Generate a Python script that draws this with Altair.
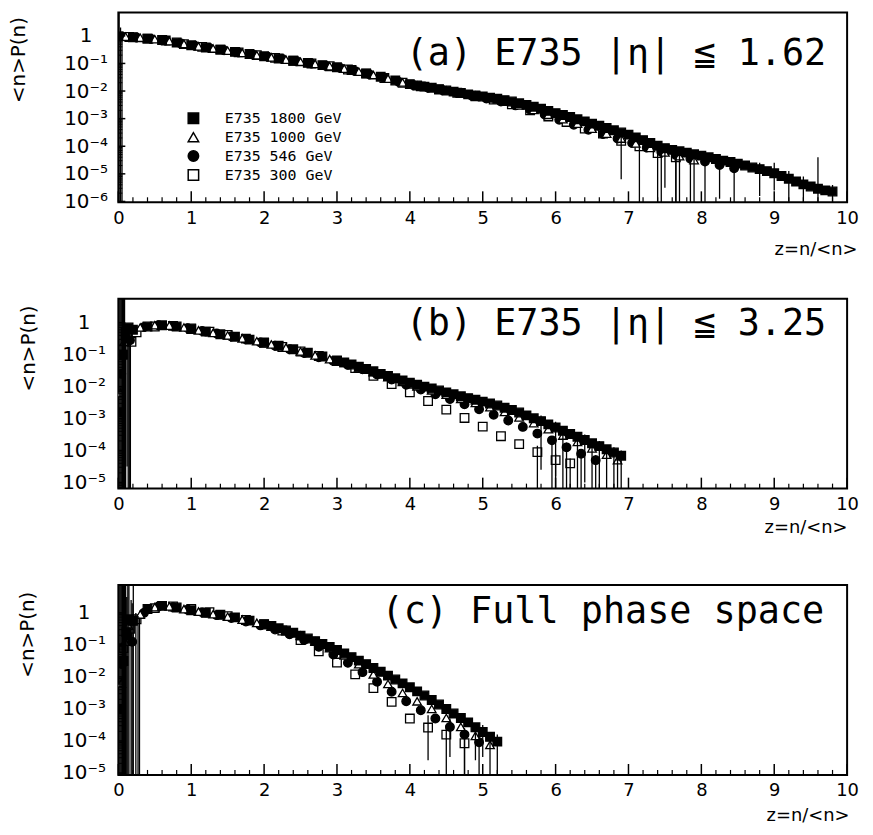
import altair as alt
import pandas as pd

FONT = "DejaVu Sans"
MONO = "DejaVu Sans Mono"

SERIES = ["E735 1800 GeV", "E735 1000 GeV", "E735 546 GeV", "E735 300 GeV"]
SHAPES = ["square", "triangle-up", "circle", "square"]
FILLS = ["black", "white", "black", "white"]
STROKES = ["black", "black", "black", "black"]

# ---------------- values: z and log10(<n>P(n)) ----------------
# panel (a) |eta| <= 1.62
A_1800_Z = [0.0, 0.2, 0.4, 0.6, 0.8, 1.0, 1.2, 1.4, 1.6, 1.8, 2.0, 2.2, 2.4, 2.6, 2.8, 3.0, 3.2, 3.4, 3.6, 3.8,
            4.0, 4.1, 4.2, 4.3, 4.4, 4.5, 4.6, 4.7, 4.8, 4.9, 5.0, 5.1, 5.2, 5.3, 5.4, 5.5, 5.6, 5.7, 5.8, 5.9,
            6.0, 6.1, 6.2, 6.3, 6.4, 6.5, 6.6, 6.7, 6.8, 6.9, 7.0, 7.1, 7.2, 7.3, 7.4, 7.5, 7.6, 7.7, 7.8, 7.9,
            8.0, 8.1, 8.2, 8.3, 8.4, 8.5, 8.6, 8.7, 8.8, 8.9, 9.0, 9.1, 9.2, 9.3, 9.4, 9.5, 9.6, 9.7, 9.8]
A_1800_L = [-0.02, -0.05, -0.10, -0.15, -0.24, -0.34, -0.42, -0.50, -0.58, -0.66, -0.74, -0.82, -0.90, -0.98,
            -1.06, -1.14, -1.24, -1.36, -1.48, -1.62,
            -1.75, -1.80, -1.84, -1.88, -1.93, -1.98, -2.02, -2.07, -2.12, -2.16,
            -2.20, -2.24, -2.28, -2.33, -2.38, -2.44, -2.50, -2.57, -2.64, -2.72,
            -2.80, -2.87, -2.94, -3.02, -3.10, -3.18, -3.26, -3.34, -3.42, -3.50,
            -3.58, -3.68, -3.78, -3.88, -3.98, -4.07, -4.13, -4.18, -4.23, -4.29,
            -4.34, -4.40, -4.46, -4.52, -4.57, -4.63, -4.70, -4.77, -4.83, -4.90,
            -4.98, -5.08, -5.18, -5.28, -5.38, -5.46, -5.54, -5.60, -5.64]
A_1000_Z = [0.1, 0.3, 0.5, 0.7, 0.9, 1.1, 1.3, 1.5, 1.7, 1.9, 2.1, 2.3, 2.5, 2.7, 2.9, 3.1, 3.3, 3.5, 3.7, 3.9,
            4.1, 4.3, 4.5, 4.7, 4.9, 5.1, 5.3, 5.5, 5.7, 5.9, 6.1, 6.3, 6.5, 6.7, 6.9, 7.1, 7.3, 7.5, 7.7, 7.9]
A_1000_L = [-0.03, -0.07, -0.12, -0.19, -0.29, -0.38, -0.46, -0.54, -0.62, -0.70, -0.78, -0.86, -0.94, -1.02,
            -1.10, -1.19, -1.30, -1.42, -1.55, -1.69, -1.80, -1.88, -1.98, -2.07, -2.16, -2.26, -2.38, -2.52,
            -2.68, -2.86, -3.02, -3.18, -3.36, -3.54, -3.72, -3.90, -4.06, -4.22, -4.36, -4.50]
A_546_Z = [0.05, 0.25, 0.45, 0.65, 0.85, 1.05, 1.25, 1.45, 1.65, 1.85, 2.05, 2.25, 2.45, 2.65, 2.85, 3.05,
           3.25, 3.45, 3.65, 3.85, 4.05, 4.25, 4.45, 4.65, 4.85, 5.05, 5.25, 5.45, 5.65, 5.85, 6.05, 6.25,
           6.45, 6.65, 6.85, 7.05, 7.25, 7.45, 7.65, 7.85, 8.05, 8.25, 8.45]
A_546_L = [-0.02, -0.06, -0.11, -0.17, -0.27, -0.36, -0.44, -0.52, -0.60, -0.68, -0.76, -0.84, -0.92, -1.00,
           -1.09, -1.17, -1.28, -1.40, -1.53, -1.67, -1.79, -1.88, -1.97, -2.07, -2.17, -2.27, -2.38, -2.52,
           -2.68, -2.85, -3.04, -3.22, -3.40, -3.56, -3.72, -3.88, -4.05, -4.20, -4.32, -4.45, -4.55, -4.68,
           -4.80]
A_300_Z = [0.15, 0.40, 0.65, 0.90, 1.15, 1.40, 1.65, 1.90, 2.15, 2.40, 2.65, 2.90, 3.15, 3.40, 3.65, 3.90,
           4.15, 4.40, 4.65, 4.90, 5.15, 5.40, 5.65, 5.90, 6.15, 6.40, 6.65, 6.90, 7.15, 7.40, 7.65]
A_300_L = [-0.04, -0.10, -0.17, -0.30, -0.40, -0.50, -0.60, -0.70, -0.80, -0.90, -1.00, -1.10, -1.22, -1.37,
           -1.53, -1.70, -1.83, -1.95, -2.06, -2.19, -2.31, -2.48, -2.70, -2.92, -3.12, -3.36, -3.54, -3.80,
           -4.00, -4.25, -4.40]
# error bars (z, log10 low, log10 high); a low end of -9 means "down to the axis"
EB_A_Z = [0.01, 0.03, 0.05, 7.45, 7.65, 7.85, 8.05, 8.25, 8.45, 6.90, 7.15, 7.40, 7.65, 7.5, 7.7, 7.9, 8.8, 9.0,
          9.2, 9.4, 9.6, 9.8]
EB_A_LO = [-9, -9, -9, -9, -9, -9, -9, -5.9, -9, -5.2, -9, -9, -9, -5.5, -9, -9, -5.8, -5.6, -6.0, -9, -9, -9]
EB_A_HI = [1.0, 0.3, 0.0, -4.05, -4.2, -4.3, -4.4, -4.5, -4.6, -3.6, -3.8, -4.0, -4.2, -4.0, -4.15, -4.3, -4.6,
           -4.6, -4.9, -5.1, -4.4, -5.4]

# panel (b) |eta| <= 3.25
B_1800_Z = [0.02, 0.06, 0.10, 0.14, 0.2, 0.4, 0.6, 0.8, 1.0, 1.2, 1.4, 1.6, 1.8, 2.0, 2.2, 2.4, 2.6, 2.8, 3.0,
            3.1, 3.2, 3.3, 3.4, 3.5, 3.6, 3.7, 3.8, 3.9, 4.0, 4.1, 4.2, 4.3, 4.4, 4.5, 4.6, 4.7, 4.8, 4.9, 5.0,
            5.1, 5.2, 5.3, 5.4, 5.5, 5.6, 5.7, 5.8, 5.9, 6.0, 6.1, 6.2, 6.3, 6.4, 6.5, 6.6, 6.7, 6.8, 6.9]
B_1800_L = [-2.8, -1.0, -0.30, -0.15, -0.22, -0.12, -0.08, -0.12, -0.20, -0.28, -0.36, -0.44, -0.53, -0.62,
            -0.72, -0.83, -0.94, -1.06, -1.18,
            -1.24, -1.31, -1.38, -1.45, -1.52, -1.60, -1.67, -1.74, -1.81, -1.88,
            -1.94, -2.00, -2.06, -2.12, -2.18, -2.24, -2.30, -2.36, -2.41, -2.47,
            -2.53, -2.59, -2.66, -2.73, -2.81, -2.90, -2.99, -3.08, -3.18, -3.28,
            -3.38, -3.48, -3.57, -3.67, -3.77, -3.86, -3.96, -4.06, -4.16]
B_1000_Z = [0.03, 0.08, 0.13, 0.3, 0.5, 0.7, 0.9, 1.1, 1.3, 1.5, 1.7, 1.9, 2.1, 2.3, 2.5, 2.7, 2.9, 3.1, 3.3,
            3.5, 3.7, 3.9, 4.1, 4.3, 4.5, 4.7, 4.9, 5.1, 5.3, 5.5, 5.7, 5.9, 6.1, 6.3, 6.5, 6.7, 6.85]
B_1000_L = [-2.2, -0.6, -0.2, -0.15, -0.08, -0.09, -0.15, -0.24, -0.32, -0.40, -0.49, -0.58, -0.68, -0.78,
            -0.90, -1.02, -1.14, -1.26, -1.40, -1.55, -1.70, -1.85, -1.99, -2.12, -2.25, -2.38, -2.51, -2.64,
            -2.79, -2.96, -3.14, -3.33, -3.53, -3.73, -3.93, -4.13, -4.30]
B_546_Z = [0.04, 0.10, 0.16, 0.35, 0.55, 0.75, 0.95, 1.15, 1.35, 1.55, 1.75, 1.95, 2.15, 2.35, 2.55, 2.75,
           2.95, 3.15, 3.35, 3.55, 3.75, 3.95, 4.15, 4.35, 4.55, 4.75, 4.95, 5.15, 5.35, 5.55, 5.75, 5.95,
           6.15, 6.35, 6.55]
B_546_L = [-1.6, -0.5, -0.55, -0.14, -0.08, -0.10, -0.17, -0.26, -0.34, -0.43, -0.52, -0.62, -0.72, -0.83,
           -0.95, -1.08, -1.20, -1.32, -1.46, -1.62, -1.78, -1.94, -2.09, -2.24, -2.39, -2.55, -2.71, -2.88,
           -3.06, -3.26, -3.47, -3.68, -3.90, -4.10, -4.30]
B_300_Z = [0.06, 0.12, 0.18, 0.25, 0.5, 0.75, 1.0, 1.25, 1.5, 1.75, 2.0, 2.25, 2.5, 2.75, 3.0, 3.25, 3.5,
           3.75, 4.0, 4.25, 4.5, 4.75, 5.0, 5.25, 5.5, 5.75, 6.0, 6.2]
B_300_L = [-1.0, -0.45, -0.6, -0.30, -0.12, -0.10, -0.18, -0.28, -0.38, -0.50, -0.63, -0.76, -0.90, -1.04,
           -1.20, -1.42, -1.66, -1.92, -2.18, -2.45, -2.72, -2.98, -3.25, -3.55, -3.80, -4.05, -4.30, -4.40]
EB_B_Z = [0.01, 0.025, 0.04, 0.055, 0.07, 0.085, 0.10, 0.135, 0.15, 0.165, 0.12,
          5.75, 6.0, 6.2, 5.95, 6.15, 6.35, 6.55, 6.1, 6.3, 6.5, 6.7, 6.85, 5.8, 6.0, 6.4, 6.6, 6.8, 6.9]
EB_B_LO = [-9, -9, -9, -9, -9, -9, -9, -9, -9, -9, -4.5,
           -9, -9, -9, -9, -9, -9, -9, -9, -9, -9, -9, -9, -4.6, -4.8, -5.0, -9, -9, -9]
EB_B_HI = [1.0, 1.0, 1.0, 1.0, 1.0, 1.0, -0.2, -0.45, -0.45, -0.5, -0.3,
           -3.85, -4.1, -4.25, -3.55, -3.75, -3.95, -4.15, -3.4, -3.55, -3.75, -3.95, -4.1, -2.9, -3.1, -3.5,
           -3.7, -3.9, -4.0]

# panel (c) full phase space
C_1800_Z = [0.03, 0.07, 0.11, 0.15, 0.2, 0.4, 0.6, 0.8, 1.0, 1.2, 1.4, 1.6, 1.8, 2.0, 2.1, 2.2, 2.3, 2.4,
            2.5, 2.6, 2.7, 2.8, 2.9, 3.0, 3.1, 3.2, 3.3, 3.4, 3.5, 3.6, 3.7, 3.8, 3.9, 4.0, 4.1, 4.2, 4.3,
            4.4, 4.5, 4.6, 4.7, 4.8, 4.9, 5.0, 5.1, 5.2]
C_1800_L = [-3.0, -1.5, -0.6, -0.2, -0.25, 0.12, 0.22, 0.17, 0.08, 0.0, -0.06, -0.14, -0.24, -0.35,
            -0.41, -0.48, -0.55, -0.62, -0.71, -0.80, -0.88, -0.97, -1.06, -1.16, -1.27, -1.38, -1.49,
            -1.60, -1.72, -1.84, -1.96, -2.08, -2.20, -2.32, -2.45, -2.58, -2.72, -2.86, -3.00, -3.14,
            -3.28, -3.42, -3.57, -3.72, -3.87, -4.02]
C_1000_Z = [0.04, 0.09, 0.14, 0.3, 0.5, 0.7, 0.9, 1.1, 1.3, 1.5, 1.7, 1.9, 2.1, 2.3, 2.5, 2.7, 2.9, 3.1, 3.3,
            3.5, 3.7, 3.9, 4.1, 4.3, 4.5, 4.7, 4.9, 5.1]
C_1000_L = [-2.2, -0.9, -0.4, -0.05, 0.18, 0.20, 0.12, 0.04, -0.04, -0.12, -0.21, -0.31, -0.43, -0.56,
            -0.71, -0.89, -1.10, -1.33, -1.60, -1.92, -2.22, -2.50, -2.76, -3.00, -3.28, -3.56, -3.84, -4.12]
C_546_Z = [0.05, 0.12, 0.19, 0.35, 0.55, 0.75, 0.95, 1.15, 1.35, 1.55, 1.75, 1.95, 2.15, 2.35, 2.55, 2.75,
           2.95, 3.15, 3.35, 3.55, 3.75, 3.95, 4.15, 4.35, 4.55, 4.75, 4.95]
C_546_L = [-1.6, -0.7, -0.9, 0.0, 0.20, 0.18, 0.10, 0.02, -0.07, -0.16, -0.27, -0.39, -0.52, -0.67, -0.85,
           -1.06, -1.30, -1.56, -1.85, -2.15, -2.46, -2.76, -3.04, -3.30, -3.56, -3.80, -4.04]
C_300_Z = [0.07, 0.16, 0.25, 0.5, 0.75, 1.0, 1.25, 1.5, 1.75, 2.0, 2.25, 2.5, 2.75, 3.0, 3.25, 3.5, 3.75,
           4.0, 4.25, 4.5, 4.75]
C_300_L = [-1.1, -0.5, -0.2, 0.15, 0.20, 0.12, 0.02, -0.10, -0.22, -0.36, -0.55, -0.85, -1.20, -1.55, -1.92,
           -2.35, -2.78, -3.30, -3.58, -3.80, -4.07]
EB_C_Z = [0.01, 0.025, 0.04, 0.055, 0.07, 0.085, 0.10, 0.115, 0.13, 0.145, 0.175, 0.19, 0.205, 0.24, 0.27,
          0.29, 4.25, 4.5, 4.75, 4.55, 4.75, 4.95, 4.9, 5.1, 5.0, 5.2]
EB_C_LO = [-9, -9, -9, -9, -9, -9, -9, -9, -9, -9, -9, -9, -9, -9, -9,
           -9, -4.6, -9, -9, -4.5, -9, -9, -4.6, -9, -4.5, -9]
EB_C_HI = [1.0, 1.0, 1.0, 1.0, 1.0, 1.0, 1.0, 0.5, 1.0, 1.0, 0.4, 0.3, 1.0, 0.0, -0.1,
           -0.15, -3.2, -3.5, -3.8, -3.3, -3.6, -3.8, -3.6, -3.9, -3.5, -3.8]

X_MAJOR = list(range(11))
X_MINOR = [i / 5 for i in range(51) if i % 5]

W, H = 733, 191


def points_frame(groups):
    rows = []
    for rank, (name, zs, ls) in enumerate(groups):
        for z, l in zip(zs, ls):
            rows.append({"z": z, "p": 10 ** l, "series": name, "rank": rank})
    return pd.DataFrame(rows)


def bars_frame(zs, los, his):
    return pd.DataFrame({"z": zs, "p": [10 ** v for v in los], "hi": [10 ** v for v in his]})


LABEL_EXPR = ("datum.value > 0.5 ? '1' : datum.value > 0.05 ? '10\u207b\u00b9' : "
              "datum.value > 0.005 ? '10\u207b\u00b2' : datum.value > 0.0005 ? '10\u207b\u00b3' : "
              "datum.value > 0.00005 ? '10\u207b\u2074' : datum.value > 0.000005 ? '10\u207b\u2075' : "
              "'10\u207b\u2076'")


def panel(pts, eb, ylo, yhi, ndec, title, tx, ty, xtx, xty, ytx, yty, ylab_pad, legend):
    xs = alt.Scale(domain=[0, 10], nice=False, zero=False)
    ys = alt.Scale(type="log", domain=[10 ** ylo, 10 ** yhi], nice=False)
    decades = [10.0 ** -k for k in range(ndec + 1)]
    minors = [m * 10.0 ** -k for k in range(1, ndec + 2) for m in range(2, 10)
              if 10 ** ylo < m * 10.0 ** -k < 10 ** yhi]
    xaxis = alt.Axis(values=X_MAJOR, format="d", grid=False, domain=False, ticks=False, tickSize=0,
                     labelFont=FONT, labelFontSize=18, labelPadding=7, labelFlush=False,
                     labelOverlap=False, labelColor="black",
                     title="z=n/<n>", titleFont=FONT, titleFontSize=18, titleFontWeight="normal",
                     titleColor="black", titleAlign="right", titleBaseline="middle",
                     titleX=xtx, titleY=xty)
    yaxis = alt.Axis(values=decades, labelExpr=LABEL_EXPR, grid=False, domain=False, ticks=False,
                     tickSize=0, labelFont=FONT, labelFontSize=20, labelPadding=ylab_pad,
                     labelAlign="center", labelBaseline="middle", labelFlush=False,
                     labelOverlap=False, labelColor="black", title=None)
    if legend:
        leg = alt.Legend(orient="none", legendX=68, legendY=99, title=None, labelFont=MONO,
                         labelFontSize=15, labelColor="black", symbolSize=110,
                         symbolStrokeWidth=1.5, labelOffset=24, rowPadding=2, padding=0)
    else:
        leg = None

    X = lambda: alt.X("z:Q", scale=xs, axis=xaxis, title="z=n/<n>")
    Y = lambda: alt.Y("p:Q", scale=ys, axis=yaxis, title=None)

    bars = alt.Chart(eb).mark_rule(color="black", strokeWidth=1.3, clip=True).encode(
        x=X(), y=Y(), y2="hi:Q",
    )
    points = alt.Chart(pts).mark_point(size=75, strokeWidth=1.3, opacity=1, clip=True).encode(
        x=X(), y=Y(),
        shape=alt.Shape("series:N", scale=alt.Scale(domain=SERIES, range=SHAPES), legend=leg),
        fill=alt.Fill("series:N", scale=alt.Scale(domain=SERIES, range=FILLS), legend=leg),
        stroke=alt.Stroke("series:N", scale=alt.Scale(domain=SERIES, range=STROKES), legend=leg),
        order=alt.Order("rank:Q"),
    )
    xt_major = alt.Chart(pd.DataFrame({"z": X_MAJOR})).mark_rule(color="black", strokeWidth=1.5).encode(
        x=X(), y=alt.value(H), y2=alt.value(H - 11))
    xt_minor = alt.Chart(pd.DataFrame({"z": X_MINOR})).mark_rule(color="black", strokeWidth=1.2).encode(
        x=X(), y=alt.value(H), y2=alt.value(H - 5))
    yt_major = alt.Chart(pd.DataFrame({"p": decades})).mark_rule(color="black", strokeWidth=1.5).encode(
        y=Y(), x=alt.value(0), x2=alt.value(7))
    yt_minor = alt.Chart(pd.DataFrame({"p": minors})).mark_rule(color="black", strokeWidth=1).encode(
        y=Y(), x=alt.value(0), x2=alt.value(4))
    txt = alt.Chart(pd.DataFrame({"t": [title]})).mark_text(
        align="right", baseline="alphabetic", font=MONO, fontSize=37, color="black").encode(
        x=alt.value(tx), y=alt.value(ty), text="t:N")
    ytitle = alt.Chart(pd.DataFrame({"t": ["<n>P(n)"]})).mark_text(
        align="center", baseline="middle", angle=270, font=FONT, fontSize=20, color="black").encode(
        x=alt.value(ytx), y=alt.value(yty), text="t:N")
    return alt.layer(points, bars, xt_major, xt_minor, yt_major, yt_minor, txt, ytitle).properties(
        width=W, height=H)


pts_a = points_frame([(SERIES[3], A_300_Z, A_300_L), (SERIES[2], A_546_Z, A_546_L),
                      (SERIES[1], A_1000_Z, A_1000_L), (SERIES[0], A_1800_Z, A_1800_L)])
pts_b = points_frame([(SERIES[3], B_300_Z, B_300_L), (SERIES[2], B_546_Z, B_546_L),
                      (SERIES[1], B_1000_Z, B_1000_L), (SERIES[0], B_1800_Z, B_1800_L)])
pts_c = points_frame([(SERIES[3], C_300_Z, C_300_L), (SERIES[2], C_546_Z, C_546_L),
                      (SERIES[1], C_1000_Z, C_1000_L), (SERIES[0], C_1800_Z, C_1800_L)])

pa = panel(pts_a, bars_frame(EB_A_Z, EB_A_LO, EB_A_HI), -6.03, 0.85, 6,
           "(a) E735 |\u03b7| \u2266 1.62", 712, 53, 743, 48, -100, 48, 33, True)
pb = panel(pts_b, bars_frame(EB_B_Z, EB_B_LO, EB_B_HI), -5.19, 0.75, 5,
           "(b) E735 |\u03b7| \u2266 3.25", 712, 36, 733, 39, -90, 50, 35, False)
pc = panel(pts_c, bars_frame(EB_C_Z, EB_C_LO, EB_C_HI), -5.06, 0.87, 5,
           "(c) Full phase space", 710, 38, 735, 41, -91, 50, 35, False)

chart = alt.vconcat(pa, pb, pc, spacing=97, bounds="flush").resolve_scale(
    x="independent", y="independent"
).resolve_legend(shape="independent", fill="independent", stroke="independent").properties(
    padding={"left": 0, "top": 1, "right": 5, "bottom": 5}
).configure_view(stroke="black", strokeWidth=2)

chart.save("out.html", embed_options={"renderer": "svg", "actions": False})
